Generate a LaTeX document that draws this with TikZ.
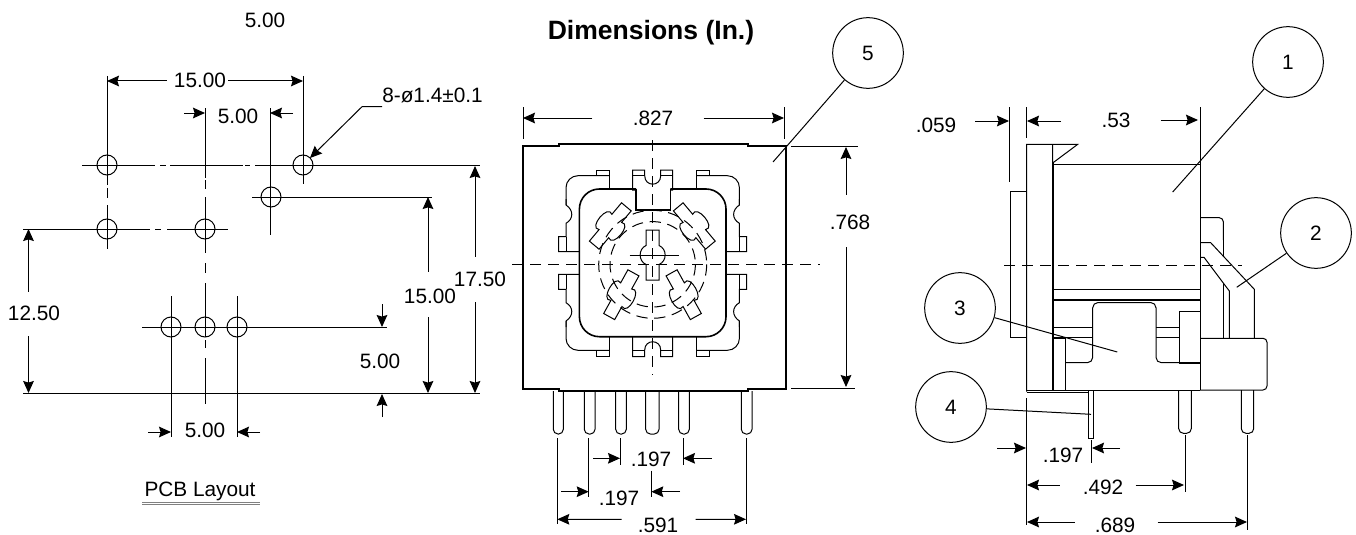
\documentclass[tikz,border=0pt]{standalone}
\usepackage{fontspec}
\setmainfont{Liberation Sans}
\usetikzlibrary{arrows.meta}
\tikzset{
    thinline/.style={line width=.75pt,black},
    thickline/.style={line width=1.2pt,black},
    cline/.style={line width=.75pt,black,dash pattern=on 8.5pt off 5pt},
    dimline/.style={line width=.75pt,black,-{Stealth[length=9pt,width=8pt,inset=1.2pt]}},
    dimlabel/.style={inner sep=0pt,font=\fontsize{15.6pt}{18pt}\selectfont},
    callout/.style={circle,draw,line width=.75pt,minimum size=53pt,inner sep=0pt,font=\fontsize{15.6pt}{18pt}\selectfont},
    hole/.style={circle,draw,line width=.75pt,minimum size=15pt,inner sep=0pt}
}
\begin{document}
\begin{tikzpicture}[x=.75pt,y=-.75pt]
    \useasboundingbox (0,0) rectangle (1356,535);

    % PCB layout
    \node[dimlabel] (topdim) at (265,20) {5.00};
    \node[dimlabel] (pcb) at (200,491) {PCB Layout};
    \draw[thinline,gray] (142,502.5) -- (260,502.5) (142,504.5) -- (260,504.5);
    \foreach \hname/\hx/\hy in {ha/107/165,hb/303/165,hc/271/197,hd/107/229,he/205/229,hf/171/327,hg/205/327,hh/237/327}
        \node[hole] (\hname) at (\hx,\hy) {};
    \draw[thinline] (82,165) -- (155,165) (160,165) -- (166,165) (170,165) -- (243,165) (245,165) -- (250,165) (255,165) -- (480,165);
    \draw[thinline] (23,229) -- (150,229) (155,229) -- (161,229) (167,229) -- (228,229);
    \draw[thinline] (252,197) -- (432,197);
    \draw[thinline] (142,327) -- (387,327);
    \draw[thinline] (23,393.5) -- (480,393.5);
    \draw[thinline] (107,76) -- (107,185) (107,188) -- (107,198) (107,205) -- (107,249);
    \draw[thinline] (303,76) -- (303,184);
    \draw[thinline] (205,108) -- (205,178) (205,180) -- (205,189) (205,197) -- (205,253) (205,263) -- (205,273) (205,283) -- (205,337) (205,340) -- (205,348) (205,358) -- (205,404);
    \draw[thinline] (270,108) -- (270,235);
    \draw[thinline] (171,296) -- (171,437);
    \draw[thinline] (237,296) -- (237,437);

    \node[dimlabel] (dtop) at (200,80) {15.00};
    \draw[dimline] (dtop.west) ++(-7,1) -- (107,81);
    \draw[dimline] (dtop.east) ++(2,1) -- (303,81);
    \node[dimlabel] (dgap) at (238,116) {5.00};
    \draw[dimline] (184,113) -- (205,113);
    \draw[dimline] (293,113) -- (270,113);
    \node[dimlabel,anchor=west] (dhole) at (382,95) {8-ø1.4±0.1};
    \coordinate (dholetip) at (310,158);
    \draw[dimline] (dhole.south west) ++(0,4) -- ++(-20,0) -- (dholetip);
    \node[dimlabel] (dlong) at (480,279) {17.50};
    \draw[dimline] (dlong.north) ++(-5,-14.5) -- (475,166);
    \draw[dimline] (dlong.south) ++(-5,15.5) -- (475,393);
    \node[dimlabel] (dmid) at (430,296) {15.00};
    \draw[dimline] (dmid.north) ++(-2,-16.5) -- (428,197);
    \draw[dimline] (dmid.south) ++(-2,13.5) -- (428,393);
    \node[dimlabel] (dleft) at (34,313) {12.50};
    \draw[dimline] (dleft.north) ++(-5.5,-13.5) -- (28.5,229);
    \draw[dimline] (dleft.south) ++(-5.5,15.5) -- (28.5,393);
    \node[dimlabel] (dlow) at (380,361) {5.00};
    \draw[dimline] (382,304) -- (382,327);
    \draw[dimline] (382,417) -- (382,394);
    \node[dimlabel] (dbot) at (205,430) {5.00};
    \draw[dimline] (148,432) -- (171,432);
    \draw[dimline] (260,432) -- (237,432);

    % top view
    \node[font=\fontsize{19.9pt}{22pt}\selectfont\bfseries,inner sep=0pt] (title) at (651,33) {Dimensions (In.)};
    \draw[thickline] (523,146) -- (559,146) -- (559,143.7) -- (748,143.7) -- (748,146) -- (785.7,146) -- (785.7,389) -- (748,389) -- (748,391) -- (559,391) -- (559,389) -- (523,389) -- cycle;
    \foreach \pl/\pr in {553.3/563.3,584.3/595,615.7/626.3,645.7/659,678.7/689.3,741.3/752}
        \draw[thinline,rounded corners=3.5pt] (\pl,391) -- (\pl,434) -- (\pr,434) -- (\pr,391);
    \begin{scope}[shift={(652.7,263)}]
        \foreach \sx/\sy in {1/1,-1/1,1/-1,-1/-1} {
            \begin{scope}[xscale=\sx,yscale=\sy]
                \draw[thinline] (-43.7,-74) -- (-43.7,-93) -- (-56.7,-93) -- (-56.7,-87.3);
                \draw[thinline,rounded corners=9pt] (-43.7,-87.3) -- (-86.7,-87.3) -- (-86.7,-58);
                \draw[thinline] (-86.7,-64) -- (-86.7,-58) .. controls (-79,-53) and (-79,-44) .. (-86.7,-39.7) -- (-86.7,-26.3) -- (-94,-26.3) -- (-94,-11.3) -- (-73.3,-11.3);
                \draw[thinline] (-86.7,-26.3) -- (-86.7,-11.3);
            \end{scope}
        }
        \draw[thickline,rounded corners=15pt] (-16.7,-74) -- (-73.3,-74) -- (-73.3,73.7) -- (73.3,73.7) -- (73.3,-74) -- (17.7,-74);
        \draw[thickline] (-16.7,-74) -- (-16.7,-53) -- (17.7,-53) -- (17.7,-74);
        \draw[thinline] (-16.7,-73) -- (-20,-73) -- (-20,-93) -- (-8,-93) -- (-8,-87.3) .. controls (-8,-76) and (8,-76) .. (8,-87.3) -- (8,-93) -- (20,-93) -- (20,-73) -- (17.7,-73);
        \draw[thinline] (-20,-87.3) -- (-8,-87.3) (8,-87.3) -- (20,-87.3);
        \draw[thinline] (-20,73.7) -- (-20,93.7) -- (-8,93.7) -- (-8,87) .. controls (-8,76) and (8,76) .. (8,87) -- (8,93.7) -- (20,93.7) -- (20,73.7);
        \draw[thinline] (-20,87) -- (-8,87) (8,87) -- (20,87);
        % centre key
        \draw[thinline] (-6.7,-33) -- (-6.7,-17.5) .. controls (-14.5,-14) and (-14.5,-2) .. (-6.7,1.5) -- (-6.7,17) -- (6.3,17) -- (6.3,1.5) .. controls (14.5,-2) and (14.5,-14) .. (6.3,-17.5) -- (6.3,-33) -- cycle;
        \draw[thinline] (-23,-8) -- (26,-8);
        \draw[cline] (0,1.3) circle[radius=54];
        \draw[cline] (0,1.3) circle[radius=42.7];
    \end{scope}
    \foreach \px/\py/\pang in {610.3/226/50,694.3/226/-50,621.3/294.7/61,683.7/294.7/-61} {
        \begin{scope}[shift={(\px,\py)},rotate=\pang]
            \draw[thinline] (-25,-6.3) -- (-10,-6.3) .. controls (-16,-16) and (16,-16) .. (10,-6.3) -- (25,-6.3) -- (25,6.3) -- (10,6.3) .. controls (16,16) and (-16,16) .. (-10,6.3) -- (-25,6.3) -- cycle;
        \end{scope}
    }
    \draw[cline] (512,264) -- (820,264);
    \draw[cline] (652.7,140) -- (652.7,375);

    \draw[thinline] (523,107) -- (523,139) (784,107) -- (784,139);
    \draw[thinline] (791,146) -- (858,146) (791,388) -- (855,388);
    \node[dimlabel] (dwide) at (653,118) {.827};
    \draw[dimline] (dwide.west) ++(-40,0) -- (523,118);
    \draw[dimline] (dwide.east) ++(30,0) -- (784,118);
    \node[dimlabel] (dhigh) at (850,222) {.768};
    \draw[dimline] (dhigh.north) ++(-4,-19.5) -- (846,147);
    \draw[dimline] (dhigh.south) ++(-4,17.5) -- (846,387);

    \draw[thinline] (557.3,438) -- (557.3,524) (588.7,438) -- (588.7,497) (620,438) -- (620,465) (683,438) -- (683,465) (651.3,470.7) -- (651.3,497) (746,438) -- (746,524);
    \node[dimlabel] (dpina) at (651,459) {.197};
    \draw[dimline] (593,458.3) -- (620,458.3);
    \draw[dimline] (711.7,458.3) -- (683,458.3);
    \node[dimlabel] (dpinb) at (619,498) {.197};
    \draw[dimline] (561,491.7) -- (588.7,491.7);
    \draw[dimline] (680,491.7) -- (651.3,491.7);
    \node[dimlabel] (dpinc) at (658,525) {.591};
    \draw[dimline] (dpinc.west) ++(-16,-5.7) -- (557.3,519.3);
    \draw[dimline] (dpinc.east) ++(17,-5.7) -- (746,519.3);

    % side view
    \draw[thinline] (1010,191) rectangle (1026.7,337.7);
    \draw[thinline] (1026.7,391.7) -- (1026.7,144.3) -- (1077.7,144.3) -- (1052.7,163) -- (1052.7,144.3);
    \draw[thickline] (1052.7,163) -- (1052.7,390);
    \draw[thinline] (1052.7,164) -- (1200,164);
    \draw[thinline] (1200,107) -- (1200,390);
    \draw[thickline] (1052.7,289.3) -- (1200,289.3) (1052.7,300) -- (1200,300);
    \draw[thinline,rounded corners=4pt] (1065,362.7) -- (1092.7,362.7) -- (1092.7,302.5) -- (1156,302.5) -- (1156,362.7) -- (1200,362.7);
    \draw[thinline] (1052.7,327.2) -- (1092.7,327.2) (1156,327.2) -- (1179.3,327.2);
    \draw[thinline] (1065,337.7) -- (1092.7,337.7) (1156,337.7) -- (1179.3,337.7);
    \draw[thinline] (1179.3,362.7) -- (1179.3,311.7) -- (1200,311.7);
    \draw[thickline] (1179.3,362.7) -- (1200,362.7) (1052.7,337.7) -- (1065,337.7);
    \draw[thinline] (1065,337.7) -- (1065,390);
    \draw[thinline] (1026.7,390) -- (1200,390);
    \draw[thinline] (1026.7,392.7) -- (1088.3,392.7);
    \draw[thinline] (1088.3,390) rectangle (1093.7,438.3);
    \foreach \pl/\pr in {1178.7/1191.3,1241.3/1253.7}
        \draw[thinline,rounded corners=3.5pt] (\pl,390) -- (\pl,433.3) -- (\pr,433.3) -- (\pr,390);
    \draw[thinline,rounded corners=3pt] (1200,338.3) -- (1267,338.3) -- (1267,390) -- (1200,390);
    \draw[thinline,rounded corners=3pt] (1200,217.7) -- (1223.3,217.7) -- (1223.3,240);
    \draw[thinline] (1223.3,225) -- (1223.3,256) (1223.3,284) -- (1223.3,338.3);
    \draw[thinline] (1200,242.7) -- (1210.7,242.7) -- (1254.3,289.3) -- (1254.3,338.3);
    \draw[thinline] (1200,257.3) -- (1204,257.3) -- (1229.3,291) -- (1229.3,338.3);
    \draw[cline] (1004,265) -- (1241.7,265);

    \draw[thinline] (1009.3,107) -- (1009.3,182) (1026.7,107) -- (1026.7,138);
    \draw[thinline] (1026.7,398) -- (1026.7,525) (1091,440) -- (1091,463) (1185,435) -- (1185,492) (1247.7,435) -- (1247.7,530);
    \node[dimlabel] (dplate) at (936,125) {.059};
    \draw[dimline] (975,121) -- (1009,121);
    \draw[dimline] (1061,121) -- (1027,121);
    \node[dimlabel] (dbody) at (1116,120) {.53};
    \draw[dimline] (dbody.east) ++(30,0) -- (1198,120);
    \node[dimlabel] (dsmall) at (1063,455) {.197};
    \draw[dimline] (997,448) -- (1026,448);
    \draw[dimline] (1120,448) -- (1092,448);
    \node[dimlabel] (dmidpin) at (1103,487) {.492};
    \draw[dimline] (dmidpin.west) ++(-23,-2) -- (1027,485);
    \draw[dimline] (dmidpin.east) ++(12,-2) -- (1184,485);
    \node[dimlabel] (dlastpin) at (1115,525) {.689};
    \draw[dimline] (dlastpin.west) ++(-20,-3) -- (1027,522);
    \draw[dimline] (dlastpin.east) ++(22,-3) -- (1247,522);

    % callouts
    \node[callout] (one) at (1288,62) {1};
    \node[callout] (two) at (1316,233) {2};
    \node[callout] (three) at (960,308) {3};
    \node[callout] (four) at (951,407) {4};
    \node[callout] (five) at (868,53) {5};
    \coordinate (onetip) at (1172.7,192);
    \coordinate (twotip) at (1236.7,287.3);
    \coordinate (threetip) at (1117.3,352);
    \coordinate (fourtip) at (1091,414.3);
    \coordinate (fivetip) at (773,162);
    \draw[thinline] (one) -- (onetip);
    \draw[thinline] (two) -- (twotip);
    \draw[thinline] (three) -- (threetip);
    \draw[thinline] (four) -- (fourtip);
    \draw[thinline] (five) -- (fivetip);
\end{tikzpicture}
\end{document}
